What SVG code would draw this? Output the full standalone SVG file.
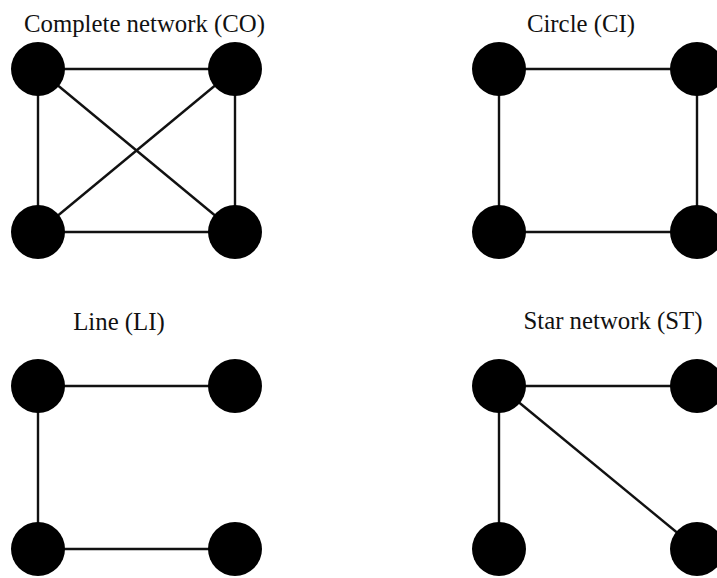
<svg xmlns="http://www.w3.org/2000/svg" width="717" height="578" viewBox="0 0 717 578">
  <style>
    .title { font-family: "Liberation Serif", "Times New Roman", serif; font-size: 24.8px; fill: #111; text-anchor: middle; }
    .edge { stroke: #111; stroke-width: 2.4; fill: none; }
    .node { fill: #000; }
  </style>
  <rect width="717" height="578" fill="#fff"/>

  <!-- Titles -->
  <text class="title" x="144.5" y="32">Complete network (CO)</text>
  <text class="title" x="581" y="32">Circle (CI)</text>
  <text class="title" x="119" y="330">Line (LI)</text>
  <text class="title" x="613" y="329">Star network (ST)</text>

  <g id="connectors">
    <!-- Complete network: every pair joined -->
    <line class="edge" x1="38" y1="69" x2="235" y2="69"/>
    <line class="edge" x1="38" y1="232" x2="235" y2="232"/>
    <line class="edge" x1="38" y1="69" x2="38" y2="232"/>
    <line class="edge" x1="235" y1="69" x2="235" y2="232"/>
    <line class="edge" x1="38" y1="69" x2="235" y2="232"/>
    <line class="edge" x1="235" y1="69" x2="38" y2="232"/>
    <!-- Circle: closed ring -->
    <line class="edge" x1="499" y1="69" x2="697" y2="69"/>
    <line class="edge" x1="499" y1="232" x2="697" y2="232"/>
    <line class="edge" x1="499" y1="69" x2="499" y2="232"/>
    <line class="edge" x1="697" y1="69" x2="697" y2="232"/>
    <!-- Line: open chain -->
    <line class="edge" x1="38" y1="386" x2="235" y2="386"/>
    <line class="edge" x1="38" y1="386" x2="38" y2="549"/>
    <line class="edge" x1="38" y1="549" x2="235" y2="549"/>
    <!-- Star: hub at top-left -->
    <line class="edge" x1="499" y1="386" x2="697" y2="386"/>
    <line class="edge" x1="499" y1="386" x2="499" y2="549"/>
    <line class="edge" x1="499" y1="386" x2="697" y2="549"/>
  </g>

  <g id="co-nodes">
    <g id="co-a"><circle class="node" cx="38" cy="69" r="27"/></g>
    <g id="co-b"><circle class="node" cx="235" cy="69" r="27"/></g>
    <g id="co-c"><circle class="node" cx="38" cy="232" r="27"/></g>
    <g id="co-d"><circle class="node" cx="235" cy="232" r="27"/></g>
  </g>
  <g id="ci-nodes">
    <g id="ci-a"><circle class="node" cx="499" cy="69" r="27"/></g>
    <g id="ci-b"><circle class="node" cx="697" cy="69" r="27"/></g>
    <g id="ci-c"><circle class="node" cx="499" cy="232" r="27"/></g>
    <g id="ci-d"><circle class="node" cx="697" cy="232" r="27"/></g>
  </g>
  <g id="li-nodes">
    <g id="li-a"><circle class="node" cx="38" cy="386" r="27"/></g>
    <g id="li-b"><circle class="node" cx="235" cy="386" r="27"/></g>
    <g id="li-c"><circle class="node" cx="38" cy="549" r="27"/></g>
    <g id="li-d"><circle class="node" cx="235" cy="549" r="27"/></g>
  </g>
  <g id="st-nodes">
    <g id="st-a"><circle class="node" cx="499" cy="386" r="27"/></g>
    <g id="st-b"><circle class="node" cx="697" cy="386" r="27"/></g>
    <g id="st-c"><circle class="node" cx="499" cy="549" r="27"/></g>
    <g id="st-d"><circle class="node" cx="697" cy="549" r="27"/></g>
  </g>
</svg>
